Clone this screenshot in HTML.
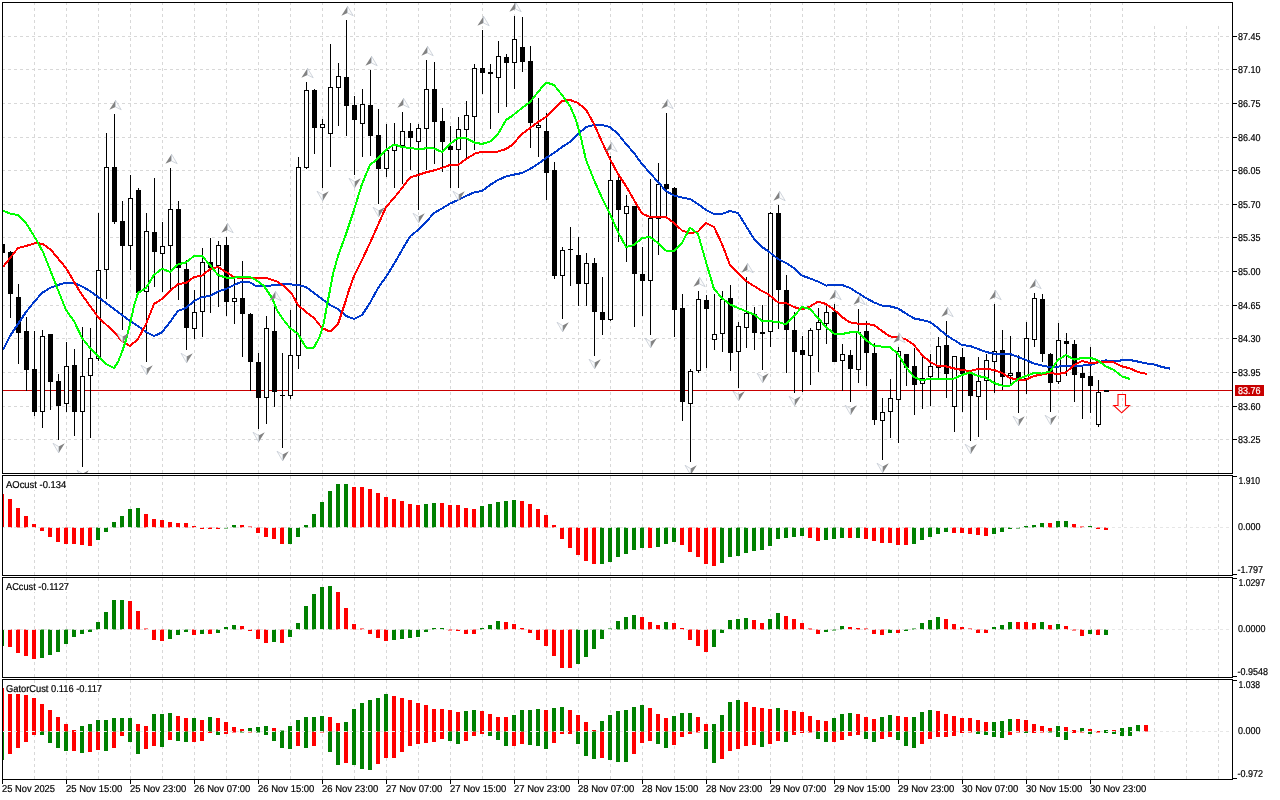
<!DOCTYPE html>
<html><head><meta charset="utf-8"><title>Chart</title>
<style>html,body{margin:0;padding:0;background:#fff;overflow:hidden}svg{display:block}text{font-family:"Liberation Sans",Arial,sans-serif;font-size:10px;text-rendering:geometricPrecision;fill:#000;stroke:#000;stroke-width:0.2px}</style></head><body>
<svg width="1280" height="800" viewBox="0 0 1280 800">
<rect width="1280" height="800" fill="#fff"/>
<defs>
<clipPath id="c0"><rect x="3" y="3" width="1229" height="470"/></clipPath>
<clipPath id="c1"><rect x="3" y="476" width="1229" height="99"/></clipPath>
<clipPath id="c2"><rect x="3" y="578" width="1229" height="99"/></clipPath>
<clipPath id="c3"><rect x="3" y="680" width="1229" height="99"/></clipPath>
</defs>
<g shape-rendering="crispEdges" stroke="#d8d8d8" stroke-width="1" stroke-dasharray="3 3" fill="none"><g clip-path="url(#c0)"><path d="M34.5 2V473"/><path d="M66.5 2V473"/><path d="M98.5 2V473"/><path d="M130.5 2V473"/><path d="M162.5 2V473"/><path d="M194.5 2V473"/><path d="M226.5 2V473"/><path d="M258.5 2V473"/><path d="M290.5 2V473"/><path d="M322.5 2V473"/><path d="M354.5 2V473"/><path d="M386.5 2V473"/><path d="M418.5 2V473"/><path d="M450.5 2V473"/><path d="M482.5 2V473"/><path d="M514.5 2V473"/><path d="M546.5 2V473"/><path d="M578.5 2V473"/><path d="M610.5 2V473"/><path d="M642.5 2V473"/><path d="M674.5 2V473"/><path d="M706.5 2V473"/><path d="M738.5 2V473"/><path d="M770.5 2V473"/><path d="M802.5 2V473"/><path d="M834.5 2V473"/><path d="M866.5 2V473"/><path d="M898.5 2V473"/><path d="M930.5 2V473"/><path d="M962.5 2V473"/><path d="M994.5 2V473"/><path d="M1026.5 2V473"/><path d="M1058.5 2V473"/><path d="M1090.5 2V473"/><path d="M1122.5 2V473"/><path d="M1154.5 26V473"/><path d="M1186.5 26V473"/><path d="M1218.5 26V473"/><path d="M2 36.5H1232"/><path d="M2 69.5H1232"/><path d="M2 103.5H1232"/><path d="M2 137.5H1232"/><path d="M2 170.5H1232"/><path d="M2 204.5H1232"/><path d="M2 237.5H1232"/><path d="M2 271.5H1232"/><path d="M2 305.5H1232"/><path d="M2 338.5H1232"/><path d="M2 372.5H1232"/><path d="M2 406.5H1232"/><path d="M2 439.5H1232"/></g><g clip-path="url(#c1)"><path d="M34.5 470V575"/><path d="M66.5 470V575"/><path d="M98.5 470V575"/><path d="M130.5 470V575"/><path d="M162.5 470V575"/><path d="M194.5 470V575"/><path d="M226.5 470V575"/><path d="M258.5 470V575"/><path d="M290.5 470V575"/><path d="M322.5 470V575"/><path d="M354.5 470V575"/><path d="M386.5 470V575"/><path d="M418.5 470V575"/><path d="M450.5 470V575"/><path d="M482.5 470V575"/><path d="M514.5 470V575"/><path d="M546.5 470V575"/><path d="M578.5 470V575"/><path d="M610.5 470V575"/><path d="M642.5 470V575"/><path d="M674.5 470V575"/><path d="M706.5 470V575"/><path d="M738.5 470V575"/><path d="M770.5 470V575"/><path d="M802.5 470V575"/><path d="M834.5 470V575"/><path d="M866.5 470V575"/><path d="M898.5 470V575"/><path d="M930.5 470V575"/><path d="M962.5 470V575"/><path d="M994.5 470V575"/><path d="M1026.5 470V575"/><path d="M1058.5 470V575"/><path d="M1090.5 470V575"/><path d="M1122.5 470V575"/><path d="M1154.5 470V575"/><path d="M1186.5 470V575"/><path d="M1218.5 470V575"/><path d="M2 527.5H1232"/></g><g clip-path="url(#c2)"><path d="M34.5 572V677"/><path d="M66.5 572V677"/><path d="M98.5 572V677"/><path d="M130.5 572V677"/><path d="M162.5 572V677"/><path d="M194.5 572V677"/><path d="M226.5 572V677"/><path d="M258.5 572V677"/><path d="M290.5 572V677"/><path d="M322.5 572V677"/><path d="M354.5 572V677"/><path d="M386.5 572V677"/><path d="M418.5 572V677"/><path d="M450.5 572V677"/><path d="M482.5 572V677"/><path d="M514.5 572V677"/><path d="M546.5 572V677"/><path d="M578.5 572V677"/><path d="M610.5 572V677"/><path d="M642.5 572V677"/><path d="M674.5 572V677"/><path d="M706.5 572V677"/><path d="M738.5 572V677"/><path d="M770.5 572V677"/><path d="M802.5 572V677"/><path d="M834.5 572V677"/><path d="M866.5 572V677"/><path d="M898.5 572V677"/><path d="M930.5 572V677"/><path d="M962.5 572V677"/><path d="M994.5 572V677"/><path d="M1026.5 572V677"/><path d="M1058.5 572V677"/><path d="M1090.5 572V677"/><path d="M1122.5 572V677"/><path d="M1154.5 572V677"/><path d="M1186.5 572V677"/><path d="M1218.5 572V677"/><path d="M2 629.5H1232"/></g><g clip-path="url(#c3)"><path d="M34.5 674V779"/><path d="M66.5 674V779"/><path d="M98.5 674V779"/><path d="M130.5 674V779"/><path d="M162.5 674V779"/><path d="M194.5 674V779"/><path d="M226.5 674V779"/><path d="M258.5 674V779"/><path d="M290.5 674V779"/><path d="M322.5 674V779"/><path d="M354.5 674V779"/><path d="M386.5 674V779"/><path d="M418.5 674V779"/><path d="M450.5 674V779"/><path d="M482.5 674V779"/><path d="M514.5 674V779"/><path d="M546.5 674V779"/><path d="M578.5 674V779"/><path d="M610.5 674V779"/><path d="M642.5 674V779"/><path d="M674.5 674V779"/><path d="M706.5 674V779"/><path d="M738.5 674V779"/><path d="M770.5 674V779"/><path d="M802.5 674V779"/><path d="M834.5 674V779"/><path d="M866.5 674V779"/><path d="M898.5 674V779"/><path d="M930.5 674V779"/><path d="M962.5 674V779"/><path d="M994.5 674V779"/><path d="M1026.5 674V779"/><path d="M1058.5 674V779"/><path d="M1090.5 674V779"/><path d="M1122.5 674V779"/><path d="M1154.5 674V779"/><path d="M1186.5 674V779"/><path d="M1218.5 674V779"/><path d="M2 731.5H1232"/></g></g>
<g clip-path="url(#c0)"><g shape-rendering="crispEdges"><rect x="3" y="390" width="1229" height="1" fill="#c80000"/><path fill="#000" d="M10 251h1v67h-1zM18 284h1v80h-1zM26 317h1v74h-1zM34 331h1v85h-1zM42 330h1v98h-1zM50 334h1v76h-1zM58 374h1v66h-1zM66 342h1v70h-1zM74 349h1v87h-1zM82 327h1v140h-1zM90 328h1v110h-1zM98 213h1v148h-1zM106 133h1v166h-1zM114 114h1v110h-1zM122 201h1v129h-1zM130 175h1v95h-1zM138 188h1v105h-1zM146 213h1v149h-1zM154 178h1v109h-1zM162 222h1v70h-1zM170 168h1v121h-1zM178 201h1v99h-1zM186 260h1v90h-1zM194 290h1v49h-1zM202 248h1v89h-1zM210 238h1v75h-1zM218 241h1v66h-1zM226 237h1v79h-1zM234 279h1v45h-1zM242 261h1v96h-1zM250 313h1v78h-1zM258 353h1v76h-1zM266 316h1v108h-1zM274 305h1v102h-1zM282 353h1v95h-1zM290 310h1v89h-1zM298 157h1v212h-1zM306 82h1v87h-1zM314 89h1v65h-1zM322 119h1v69h-1zM330 44h1v123h-1zM338 63h1v63h-1zM346 20h1v116h-1zM354 96h1v79h-1zM362 89h1v68h-1zM370 70h1v86h-1zM378 109h1v95h-1zM386 124h1v53h-1zM394 123h1v65h-1zM402 112h1v72h-1zM410 123h1v47h-1zM418 124h1v86h-1zM426 60h1v110h-1zM434 62h1v102h-1zM442 108h1v64h-1zM450 126h1v62h-1zM458 117h1v71h-1zM466 101h1v59h-1zM474 64h1v86h-1zM482 30h1v64h-1zM490 64h1v65h-1zM498 41h1v72h-1zM506 54h1v53h-1zM514 16h1v73h-1zM522 17h1v55h-1zM530 46h1v102h-1zM538 98h1v59h-1zM546 113h1v87h-1zM554 162h1v117h-1zM562 247h1v72h-1zM570 227h1v59h-1zM578 237h1v69h-1zM586 253h1v53h-1zM594 258h1v98h-1zM602 277h1v58h-1zM610 156h1v165h-1zM618 177h1v65h-1zM626 195h1v67h-1zM634 206h1v121h-1zM642 247h1v69h-1zM650 179h1v156h-1zM658 163h1v92h-1zM666 113h1v104h-1zM674 187h1v150h-1zM682 294h1v127h-1zM690 369h1v93h-1zM698 291h1v82h-1zM706 295h1v73h-1zM714 294h1v56h-1zM722 291h1v61h-1zM730 285h1v86h-1zM738 322h1v66h-1zM746 277h1v71h-1zM754 307h1v43h-1zM762 305h1v65h-1zM770 212h1v135h-1zM778 205h1v124h-1zM786 275h1v98h-1zM794 312h1v81h-1zM802 336h1v56h-1zM810 328h1v57h-1zM818 308h1v64h-1zM826 305h1v39h-1zM834 304h1v58h-1zM842 344h1v47h-1zM850 350h1v52h-1zM858 309h1v74h-1zM866 321h1v65h-1zM874 343h1v82h-1zM882 398h1v62h-1zM890 379h1v59h-1zM898 347h1v96h-1zM906 354h1v32h-1zM914 348h1v67h-1zM922 357h1v52h-1zM930 354h1v52h-1zM938 337h1v41h-1zM946 321h1v77h-1zM954 356h1v76h-1zM962 348h1v64h-1zM970 370h1v71h-1zM978 357h1v80h-1zM986 354h1v66h-1zM994 304h1v89h-1zM1002 330h1v60h-1zM1010 336h1v49h-1zM1018 355h1v58h-1zM1026 322h1v72h-1zM1034 293h1v54h-1zM1042 294h1v68h-1zM1050 353h1v59h-1zM1058 323h1v61h-1zM1066 333h1v43h-1zM1074 340h1v62h-1zM1082 367h1v52h-1zM1090 347h1v66h-1zM1098 380h1v47h-1z"/><path fill="#000" d="M0 244h5v9h-5zM8 252h5v42h-5zM16 297h5v36h-5zM24 331h5v39h-5zM32 369h5v43h-5zM40 336h5v76h-5zM48 334h5v48h-5zM56 381h5v25h-5zM64 366h5v38h-5zM72 365h5v47h-5zM80 376h5v36h-5zM88 358h5v18h-5zM96 270h5v89h-5zM104 167h5v103h-5zM112 167h5v55h-5zM120 221h5v25h-5zM128 198h5v48h-5zM136 190h5v103h-5zM144 231h5v61h-5zM152 232h5v20h-5zM160 246h5v8h-5zM168 209h5v37h-5zM176 209h5v59h-5zM184 269h5v59h-5zM192 312h5v17h-5zM200 262h5v50h-5zM208 262h5v6h-5zM216 245h5v21h-5zM224 245h5v57h-5zM232 298h5v4h-5zM240 298h5v16h-5zM248 314h5v48h-5zM256 362h5v36h-5zM264 328h5v70h-5zM272 331h5v61h-5zM280 395h5v1h-5zM288 355h5v41h-5zM296 167h5v189h-5zM304 90h5v78h-5zM312 90h5v38h-5zM320 124h5v4h-5zM328 87h5v47h-5zM336 76h5v12h-5zM344 77h5v29h-5zM352 105h5v15h-5zM360 104h5v20h-5zM368 105h5v31h-5zM376 135h5v34h-5zM384 150h5v19h-5zM392 144h5v7h-5zM400 131h5v15h-5zM408 131h5v7h-5zM416 128h5v14h-5zM424 89h5v40h-5zM432 89h5v33h-5zM440 121h5v21h-5zM448 146h5v4h-5zM456 129h5v21h-5zM464 115h5v15h-5zM472 68h5v49h-5zM480 68h5v5h-5zM488 72h5v2h-5zM496 56h5v22h-5zM504 57h5v6h-5zM512 39h5v24h-5zM520 47h5v15h-5zM528 61h5v62h-5zM536 125h5v3h-5zM544 131h5v42h-5zM552 170h5v106h-5zM560 250h5v26h-5zM568 249h5v1h-5zM576 255h5v29h-5zM584 263h5v21h-5zM592 263h5v49h-5zM600 312h5v8h-5zM608 180h5v140h-5zM616 180h5v30h-5zM624 206h5v8h-5zM632 206h5v68h-5zM640 274h5v7h-5zM648 218h5v63h-5zM656 184h5v35h-5zM664 184h5v5h-5zM672 188h5v122h-5zM680 308h5v94h-5zM688 371h5v33h-5zM696 299h5v72h-5zM704 300h5v9h-5zM712 334h5v6h-5zM720 299h5v35h-5zM728 298h5v55h-5zM736 326h5v26h-5zM744 313h5v15h-5zM752 314h5v19h-5zM760 332h5v2h-5zM768 213h5v119h-5zM776 213h5v77h-5zM784 290h5v40h-5zM792 330h5v22h-5zM800 350h5v5h-5zM808 330h5v26h-5zM816 322h5v8h-5zM824 312h5v12h-5zM832 312h5v50h-5zM840 354h5v7h-5zM848 355h5v14h-5zM856 332h5v38h-5zM864 331h5v22h-5zM872 353h5v67h-5zM880 412h5v9h-5zM888 398h5v14h-5zM896 351h5v49h-5zM904 354h5v14h-5zM912 366h5v19h-5zM920 378h5v6h-5zM928 366h5v11h-5zM936 346h5v22h-5zM944 345h5v29h-5zM952 356h5v51h-5zM960 357h5v17h-5zM968 373h5v23h-5zM976 381h5v16h-5zM984 360h5v21h-5zM992 351h5v11h-5zM1000 350h5v27h-5zM1008 373h5v3h-5zM1016 372h5v6h-5zM1024 338h5v41h-5zM1032 298h5v42h-5zM1040 299h5v55h-5zM1048 354h5v29h-5zM1056 340h5v42h-5zM1064 341h5v3h-5zM1072 344h5v31h-5zM1080 373h5v5h-5zM1088 376h5v10h-5zM1096 392h5v33h-5zM1104 390h5v2h-5z"/><path fill="#fff" d="M41 337h3v74h-3zM65 367h3v36h-3zM81 377h3v34h-3zM89 359h3v16h-3zM97 271h3v87h-3zM105 168h3v101h-3zM129 199h3v46h-3zM145 232h3v59h-3zM161 247h3v6h-3zM169 210h3v35h-3zM193 313h3v15h-3zM201 263h3v48h-3zM217 246h3v19h-3zM233 299h3v2h-3zM265 329h3v68h-3zM289 356h3v39h-3zM297 168h3v187h-3zM305 91h3v76h-3zM321 125h3v2h-3zM329 88h3v45h-3zM337 77h3v10h-3zM361 105h3v18h-3zM385 151h3v17h-3zM393 145h3v5h-3zM401 132h3v13h-3zM417 129h3v12h-3zM425 90h3v38h-3zM457 130h3v19h-3zM465 116h3v13h-3zM473 69h3v47h-3zM497 57h3v20h-3zM513 40h3v22h-3zM537 126h3v1h-3zM561 251h3v24h-3zM585 264h3v19h-3zM609 181h3v138h-3zM625 207h3v6h-3zM649 219h3v61h-3zM657 185h3v33h-3zM689 372h3v31h-3zM697 300h3v70h-3zM713 335h3v4h-3zM721 300h3v33h-3zM737 327h3v24h-3zM745 314h3v13h-3zM769 214h3v117h-3zM809 331h3v24h-3zM817 323h3v6h-3zM825 313h3v10h-3zM841 355h3v5h-3zM857 333h3v36h-3zM881 413h3v7h-3zM889 399h3v12h-3zM897 352h3v47h-3zM921 379h3v4h-3zM929 367h3v9h-3zM937 347h3v20h-3zM953 357h3v49h-3zM977 382h3v14h-3zM985 361h3v19h-3zM993 352h3v9h-3zM1009 374h3v1h-3zM1025 339h3v39h-3zM1033 299h3v40h-3zM1057 341h3v40h-3zM1097 393h3v31h-3z"/><polyline points="3,350 10,336 18,324 26,312 34,302 42,293 50,288 58,285 66,282.6 74,283 82,286.4 90,291 98,297 106,303 114,309 122,315 130,321 138,326 146,332 154,336 162,332.4 170,322 178,311 186,308 194,301 202,297 210,296 218,291.6 226,289 234,285 242,281.6 250,282.4 256,286 266,286 276,285 286,284 298,285 306,287 314,293 322,299 330,305 338,309 346,316 354,319 362,315 368,306 371,301 378,288 386,277 394,264 402,250 410,236.4 418,230 426,222 434,213 442,208.4 450,203.6 458,200 466,196 474,192.4 482,191 490,185 498,180 506,176.4 512,175 522,173 530,169 538,164 546,158 554,153 562,147 570,142 578,134 586,127 594,125 602,125 610,127 618,134 626,144 634,153 642,164 650,173 658,182 666,191 674,195.6 682,197.6 690,199 698,204 706,210 714,214 722,214 730,211 738,213 746,226 754,239 762,247 768,251 778,259 786,263 794,268 802,275.6 810,278.4 818,281.6 826,285.6 834,285 842,285 850,288 858,293 866,298 874,302.4 882,305.6 890,306.4 898,308.4 906,313.6 914,318.4 922,320 930,322 938,328 946,335 954,340 962,345 970,346 978,349 986,352 994,353.6 1002,354 1010,354 1018,357 1026,360 1034,363.6 1042,365.6 1050,367 1058,366.6 1066,366 1074,365.6 1082,365.6 1090,365 1098,362.4 1106,360.4 1114,361 1122,360.4 1130,360 1138,361.6 1146,363.4 1154,364.4 1162,367 1170,368.6" fill="none" stroke="#0039cc" stroke-width="2" stroke-linejoin="round"/><polyline points="3,267 10,258 18,248 26,246 36,243 43,244 51,250 66,268 80,292 98,317 114,332 122,341 130,346 138,339 146,324 154,304 162,299 170,291 178,284 186,283 194,277 202,275.6 210,269 218,267 226,272 234,277 242,278.4 250,278 256,278 266,278 276,281 284,286 292,294 298,305 306,312 314,318 322,328 330,331.6 338,324 342,312 346,300 348,293 354,276 362,260 370,243 378,225 386,207 394,198 402,188 410,177.6 418,175 426,172.4 434,170.4 442,168 450,165 458,165 466,159 476,153 482,152 490,152 498,151.6 506,149 512,145 522,134 530,128 538,122 546,117 554,109 562,101 570,100 578,103 586,109.6 594,124 602,142 610,159 618,174 626,186 634,200 642,213.6 650,217 658,217 666,217 674,223 682,230.4 690,233.6 698,231.6 706,223 714,227 722,244 730,265 738,273 746,281 754,286 762,291 768,294 778,302.4 786,303 794,307 802,309.6 810,306.4 818,301.6 826,304 834,309.6 842,317 850,322.4 858,323.6 866,324 874,325 882,331 890,336.4 898,337 906,339.4 914,345 922,355 930,362 938,366 946,366.4 954,368.4 962,370 970,371 978,369 986,368.6 994,370 1002,373 1010,378 1018,379.6 1026,379.6 1034,376 1042,374.4 1050,373 1058,374 1066,372.4 1074,365 1082,361 1090,363 1098,362.4 1106,361.6 1114,362.4 1122,366.4 1130,368.4 1138,372 1147,374" fill="none" stroke="#ff0000" stroke-width="2" stroke-linejoin="round"/><polyline points="3,210.6 10,213.5 18,215 26,223 34,236 37,241 43,252 51,272 58,290 66,310 74,321 82,338 90,348 98,356 106,364 114,368 118,362 122,352 126,340 130,324 134,306 138,293 146,288 154,275 162,268.6 170,272 178,264.4 186,262.4 194,256 202,256 210,265 218,275 226,277.6 234,277.6 242,277 250,277 256,280 264,286 272,298 277,310 282,318 290,328 298,334 306,347.6 314,347.6 320,336 324,322 327,305 330,290 333,274 338,256 346,234 354,210 362,184 370,165 376,160 386,150 394,144.4 402,147 410,148 418,149 426,148.4 434,148.4 442,152 450,144 458,138 466,138 474,142.4 482,144 490,141.6 498,134 506,120 512,116 522,108 530,102 538,92 546,82.4 554,85 562,95 570,106 576,120 581,138 586,160 594,180 602,198 610,214 618,232 626,247 634,245 642,238 650,237 658,243 666,250.6 674,251 682,243 690,227.6 698,234 706,262 714,289 722,298 730,304.4 738,308 748,312 755,315 762,321 768,321 778,322 786,324.4 794,316 802,307 810,309 818,318 826,327 834,333.6 842,334 850,332.4 858,332 866,340 874,346 882,346.6 890,347 898,354 906,367 914,377 922,380.6 930,378.6 938,378.6 946,379 954,378.6 962,375 970,372.4 978,376 986,377.6 994,383 1002,385.6 1010,385.6 1018,379 1026,376 1034,373 1042,373.6 1050,371.6 1058,360 1066,355 1074,359.6 1082,358 1090,357.6 1098,360.4 1106,366.4 1114,370 1122,376.4 1130,379" fill="none" stroke="#00ff00" stroke-width="2" stroke-linejoin="round"/></g><path d="M115.5 100.2L109.4 109.7L115.5 107Z" fill="#828282"/><path d="M115.5 100.2L121.2 109.7L115.5 107Z" fill="#fbfbfb" stroke="#b4bcc8" stroke-width="0.6"/><path d="M171.5 154.2L165.4 163.7L171.5 161Z" fill="#828282"/><path d="M171.5 154.2L177.2 163.7L171.5 161Z" fill="#fbfbfb" stroke="#b4bcc8" stroke-width="0.6"/><path d="M227.5 223.2L221.4 232.7L227.5 230Z" fill="#828282"/><path d="M227.5 223.2L233.2 232.7L227.5 230Z" fill="#fbfbfb" stroke="#b4bcc8" stroke-width="0.6"/><path d="M275.5 291.2L269.4 300.7L275.5 298Z" fill="#828282"/><path d="M275.5 291.2L281.2 300.7L275.5 298Z" fill="#fbfbfb" stroke="#b4bcc8" stroke-width="0.6"/><path d="M307.5 68.2L301.4 77.7L307.5 75Z" fill="#828282"/><path d="M307.5 68.2L313.2 77.7L307.5 75Z" fill="#fbfbfb" stroke="#b4bcc8" stroke-width="0.6"/><path d="M347.5 6.199999999999999L341.4 15.7L347.5 13Z" fill="#828282"/><path d="M347.5 6.199999999999999L353.2 15.7L347.5 13Z" fill="#fbfbfb" stroke="#b4bcc8" stroke-width="0.6"/><path d="M371.5 56.2L365.4 65.7L371.5 63Z" fill="#828282"/><path d="M371.5 56.2L377.2 65.7L371.5 63Z" fill="#fbfbfb" stroke="#b4bcc8" stroke-width="0.6"/><path d="M403.5 98.2L397.4 107.7L403.5 105Z" fill="#828282"/><path d="M403.5 98.2L409.2 107.7L403.5 105Z" fill="#fbfbfb" stroke="#b4bcc8" stroke-width="0.6"/><path d="M427.5 46.2L421.4 55.7L427.5 53Z" fill="#828282"/><path d="M427.5 46.2L433.2 55.7L427.5 53Z" fill="#fbfbfb" stroke="#b4bcc8" stroke-width="0.6"/><path d="M483.5 16.2L477.4 25.7L483.5 23Z" fill="#828282"/><path d="M483.5 16.2L489.2 25.7L483.5 23Z" fill="#fbfbfb" stroke="#b4bcc8" stroke-width="0.6"/><path d="M515.5 2.1999999999999993L509.4 11.7L515.5 9Z" fill="#828282"/><path d="M515.5 2.1999999999999993L521.2 11.7L515.5 9Z" fill="#fbfbfb" stroke="#b4bcc8" stroke-width="0.6"/><path d="M611.5 142.2L605.4 151.7L611.5 149Z" fill="#828282"/><path d="M611.5 142.2L617.2 151.7L611.5 149Z" fill="#fbfbfb" stroke="#b4bcc8" stroke-width="0.6"/><path d="M667.5 99.2L661.4 108.7L667.5 106Z" fill="#828282"/><path d="M667.5 99.2L673.2 108.7L667.5 106Z" fill="#fbfbfb" stroke="#b4bcc8" stroke-width="0.6"/><path d="M699.5 277.2L693.4 286.7L699.5 284Z" fill="#828282"/><path d="M699.5 277.2L705.2 286.7L699.5 284Z" fill="#fbfbfb" stroke="#b4bcc8" stroke-width="0.6"/><path d="M747.5 263.2L741.4 272.7L747.5 270Z" fill="#828282"/><path d="M747.5 263.2L753.2 272.7L747.5 270Z" fill="#fbfbfb" stroke="#b4bcc8" stroke-width="0.6"/><path d="M779.5 191.2L773.4 200.7L779.5 198Z" fill="#828282"/><path d="M779.5 191.2L785.2 200.7L779.5 198Z" fill="#fbfbfb" stroke="#b4bcc8" stroke-width="0.6"/><path d="M835.5 290.2L829.4 299.7L835.5 297Z" fill="#828282"/><path d="M835.5 290.2L841.2 299.7L835.5 297Z" fill="#fbfbfb" stroke="#b4bcc8" stroke-width="0.6"/><path d="M859.5 295.2L853.4 304.7L859.5 302Z" fill="#828282"/><path d="M859.5 295.2L865.2 304.7L859.5 302Z" fill="#fbfbfb" stroke="#b4bcc8" stroke-width="0.6"/><path d="M899.5 333.2L893.4 342.7L899.5 340Z" fill="#828282"/><path d="M899.5 333.2L905.2 342.7L899.5 340Z" fill="#fbfbfb" stroke="#b4bcc8" stroke-width="0.6"/><path d="M947.5 307.2L941.4 316.7L947.5 314Z" fill="#828282"/><path d="M947.5 307.2L953.2 316.7L947.5 314Z" fill="#fbfbfb" stroke="#b4bcc8" stroke-width="0.6"/><path d="M995.5 290.2L989.4 299.7L995.5 297Z" fill="#828282"/><path d="M995.5 290.2L1001.2 299.7L995.5 297Z" fill="#fbfbfb" stroke="#b4bcc8" stroke-width="0.6"/><path d="M1035.5 279.2L1029.4 288.7L1035.5 286Z" fill="#828282"/><path d="M1035.5 279.2L1041.2 288.7L1035.5 286Z" fill="#fbfbfb" stroke="#b4bcc8" stroke-width="0.6"/><path d="M58.7 452.9L64.8 443.3L58.7 446.6Z" fill="#828282"/><path d="M58.7 452.9L53 443.3L58.7 446.6Z" fill="#fbfbfb" stroke="#b4bcc8" stroke-width="0.6"/><path d="M82.7 479.9L88.8 470.3L82.7 473.6Z" fill="#828282"/><path d="M82.7 479.9L77 470.3L82.7 473.6Z" fill="#fbfbfb" stroke="#b4bcc8" stroke-width="0.6"/><path d="M122.7 342.9L128.8 333.3L122.7 336.6Z" fill="#828282"/><path d="M122.7 342.9L117 333.3L122.7 336.6Z" fill="#fbfbfb" stroke="#b4bcc8" stroke-width="0.6"/><path d="M146.7 374.9L152.8 365.3L146.7 368.6Z" fill="#828282"/><path d="M146.7 374.9L141 365.3L146.7 368.6Z" fill="#fbfbfb" stroke="#b4bcc8" stroke-width="0.6"/><path d="M186.7 362.9L192.8 353.3L186.7 356.6Z" fill="#828282"/><path d="M186.7 362.9L181 353.3L186.7 356.6Z" fill="#fbfbfb" stroke="#b4bcc8" stroke-width="0.6"/><path d="M258.7 441.9L264.8 432.3L258.7 435.6Z" fill="#828282"/><path d="M258.7 441.9L253 432.3L258.7 435.6Z" fill="#fbfbfb" stroke="#b4bcc8" stroke-width="0.6"/><path d="M282.7 460.9L288.8 451.3L282.7 454.6Z" fill="#828282"/><path d="M282.7 460.9L277 451.3L282.7 454.6Z" fill="#fbfbfb" stroke="#b4bcc8" stroke-width="0.6"/><path d="M322.7 200.9L328.8 191.3L322.7 194.6Z" fill="#828282"/><path d="M322.7 200.9L317 191.3L322.7 194.6Z" fill="#fbfbfb" stroke="#b4bcc8" stroke-width="0.6"/><path d="M354.7 187.9L360.8 178.3L354.7 181.6Z" fill="#828282"/><path d="M354.7 187.9L349 178.3L354.7 181.6Z" fill="#fbfbfb" stroke="#b4bcc8" stroke-width="0.6"/><path d="M378.7 216.9L384.8 207.3L378.7 210.6Z" fill="#828282"/><path d="M378.7 216.9L373 207.3L378.7 210.6Z" fill="#fbfbfb" stroke="#b4bcc8" stroke-width="0.6"/><path d="M418.7 222.9L424.8 213.3L418.7 216.6Z" fill="#828282"/><path d="M418.7 222.9L413 213.3L418.7 216.6Z" fill="#fbfbfb" stroke="#b4bcc8" stroke-width="0.6"/><path d="M458.7 200.9L464.8 191.3L458.7 194.6Z" fill="#828282"/><path d="M458.7 200.9L453 191.3L458.7 194.6Z" fill="#fbfbfb" stroke="#b4bcc8" stroke-width="0.6"/><path d="M562.7 331.9L568.8 322.3L562.7 325.6Z" fill="#828282"/><path d="M562.7 331.9L557 322.3L562.7 325.6Z" fill="#fbfbfb" stroke="#b4bcc8" stroke-width="0.6"/><path d="M594.7 368.9L600.8 359.3L594.7 362.6Z" fill="#828282"/><path d="M594.7 368.9L589 359.3L594.7 362.6Z" fill="#fbfbfb" stroke="#b4bcc8" stroke-width="0.6"/><path d="M650.7 347.9L656.8 338.3L650.7 341.6Z" fill="#828282"/><path d="M650.7 347.9L645 338.3L650.7 341.6Z" fill="#fbfbfb" stroke="#b4bcc8" stroke-width="0.6"/><path d="M690.7 474.9L696.8 465.3L690.7 468.6Z" fill="#828282"/><path d="M690.7 474.9L685 465.3L690.7 468.6Z" fill="#fbfbfb" stroke="#b4bcc8" stroke-width="0.6"/><path d="M738.7 400.9L744.8 391.3L738.7 394.6Z" fill="#828282"/><path d="M738.7 400.9L733 391.3L738.7 394.6Z" fill="#fbfbfb" stroke="#b4bcc8" stroke-width="0.6"/><path d="M762.7 382.9L768.8 373.3L762.7 376.6Z" fill="#828282"/><path d="M762.7 382.9L757 373.3L762.7 376.6Z" fill="#fbfbfb" stroke="#b4bcc8" stroke-width="0.6"/><path d="M794.7 405.9L800.8 396.3L794.7 399.6Z" fill="#828282"/><path d="M794.7 405.9L789 396.3L794.7 399.6Z" fill="#fbfbfb" stroke="#b4bcc8" stroke-width="0.6"/><path d="M850.7 414.9L856.8 405.3L850.7 408.6Z" fill="#828282"/><path d="M850.7 414.9L845 405.3L850.7 408.6Z" fill="#fbfbfb" stroke="#b4bcc8" stroke-width="0.6"/><path d="M882.7 472.9L888.8 463.3L882.7 466.6Z" fill="#828282"/><path d="M882.7 472.9L877 463.3L882.7 466.6Z" fill="#fbfbfb" stroke="#b4bcc8" stroke-width="0.6"/><path d="M970.7 453.9L976.8 444.3L970.7 447.6Z" fill="#828282"/><path d="M970.7 453.9L965 444.3L970.7 447.6Z" fill="#fbfbfb" stroke="#b4bcc8" stroke-width="0.6"/><path d="M1018.7 425.9L1024.8 416.3L1018.7 419.6Z" fill="#828282"/><path d="M1018.7 425.9L1013 416.3L1018.7 419.6Z" fill="#fbfbfb" stroke="#b4bcc8" stroke-width="0.6"/><path d="M1050.7 424.9L1056.8 415.3L1050.7 418.6Z" fill="#828282"/><path d="M1050.7 424.9L1045 415.3L1050.7 418.6Z" fill="#fbfbfb" stroke="#b4bcc8" stroke-width="0.6"/><path d="M1118 394.5H1125.5V405.5H1129.5L1121.7 412.8L1113.8 405.5H1118Z" fill="none" stroke="#ff0000" stroke-width="1.1" stroke-linejoin="miter"/></g>
<g fill="#fff" shape-rendering="crispEdges"><rect x="5" y="480" width="62" height="10"/><rect x="5" y="582" width="66" height="10"/><rect x="5" y="684" width="98" height="10"/></g>
<g clip-path="url(#c1)"><path fill="#ff0000" d="M0 494h4v33.5h-4zM8 499h4v28.5h-4zM16 508h4v19.5h-4zM24 516h4v11.5h-4zM32 524h4v3.5h-4zM40 527.5h4v3.5h-4zM48 527.5h4v9.5h-4zM56 527.5h4v14.5h-4zM64 527.5h4v16.5h-4zM72 527.5h4v16.5h-4zM80 527.5h4v17.5h-4zM88 527.5h4v18.5h-4zM144 514h4v13.5h-4zM152 519h4v8.5h-4zM160 520h4v7.5h-4zM168 522h4v5.5h-4zM176 523h4v4.5h-4zM184 523h4v4.5h-4zM192 526h4v1.5h-4zM200 527.5h4v1.5h-4zM208 527.5h4v1.5h-4zM216 527.5h4v1.5h-4zM240 525h4v2.5h-4zM248 526.5h4v1.0h-4zM256 527.5h4v5.5h-4zM264 527.5h4v9.5h-4zM272 527.5h4v11.5h-4zM280 527.5h4v16.5h-4zM352 487h4v40.5h-4zM360 487h4v40.5h-4zM368 489h4v38.5h-4zM376 493h4v34.5h-4zM384 497h4v30.5h-4zM392 499h4v28.5h-4zM400 501h4v26.5h-4zM408 504h4v23.5h-4zM416 505h4v22.5h-4zM440 503h4v24.5h-4zM448 505h4v22.5h-4zM456 505h4v22.5h-4zM464 508h4v19.5h-4zM472 509h4v18.5h-4zM520 501h4v26.5h-4zM528 504h4v23.5h-4zM536 509h4v18.5h-4zM544 515h4v12.5h-4zM552 525h4v2.5h-4zM560 527.5h4v11.5h-4zM568 527.5h4v20.5h-4zM576 527.5h4v27.5h-4zM584 527.5h4v33.5h-4zM592 527.5h4v36.5h-4zM648 527.5h4v20.5h-4zM680 527.5h4v17.5h-4zM688 527.5h4v24.5h-4zM696 527.5h4v29.5h-4zM704 527.5h4v36.5h-4zM712 527.5h4v38.5h-4zM808 527.5h4v10.5h-4zM816 527.5h4v13.5h-4zM848 527.5h4v10.5h-4zM864 527.5h4v11.5h-4zM872 527.5h4v13.5h-4zM880 527.5h4v15.5h-4zM888 527.5h4v15.5h-4zM896 527.5h4v17.5h-4zM904 527.5h4v17.5h-4zM952 527.5h4v5.5h-4zM960 527.5h4v5.5h-4zM968 527.5h4v6.5h-4zM976 527.5h4v7.5h-4zM984 527.5h4v8.5h-4zM1048 523h4v4.5h-4zM1072 524h4v3.5h-4zM1080 526.4h4v1.1000000000000227h-4zM1096 527.5h4v1.5h-4zM1104 527.5h4v2.5h-4z"/><path fill="#008000" d="M96 527.5h4v12.5h-4zM104 527.5h4v4.5h-4zM112 522h4v5.5h-4zM120 516h4v11.5h-4zM128 509h4v18.5h-4zM136 508h4v19.5h-4zM224 527.5h4v1.1000000000000227h-4zM232 525h4v2.5h-4zM288 527.5h4v16.5h-4zM296 527.5h4v9.5h-4zM304 525h4v2.5h-4zM312 514h4v13.5h-4zM320 502h4v25.5h-4zM328 491h4v36.5h-4zM336 484h4v43.5h-4zM344 484h4v43.5h-4zM424 504h4v23.5h-4zM432 503h4v24.5h-4zM480 506h4v21.5h-4zM488 504h4v23.5h-4zM496 502h4v25.5h-4zM504 501h4v26.5h-4zM512 500h4v27.5h-4zM600 527.5h4v36.5h-4zM608 527.5h4v34.5h-4zM616 527.5h4v29.5h-4zM624 527.5h4v26.5h-4zM632 527.5h4v22.5h-4zM640 527.5h4v20.5h-4zM656 527.5h4v19.5h-4zM664 527.5h4v16.5h-4zM672 527.5h4v14.5h-4zM720 527.5h4v35.5h-4zM728 527.5h4v29.5h-4zM736 527.5h4v28.5h-4zM744 527.5h4v25.5h-4zM752 527.5h4v23.5h-4zM760 527.5h4v22.5h-4zM768 527.5h4v18.5h-4zM776 527.5h4v11.5h-4zM784 527.5h4v10.5h-4zM792 527.5h4v9.5h-4zM800 527.5h4v8.5h-4zM824 527.5h4v12.5h-4zM832 527.5h4v11.5h-4zM840 527.5h4v10.5h-4zM856 527.5h4v10.5h-4zM912 527.5h4v16.5h-4zM920 527.5h4v12.5h-4zM928 527.5h4v9.5h-4zM936 527.5h4v6.5h-4zM944 527.5h4v4.5h-4zM992 527.5h4v6.5h-4zM1000 527.5h4v4.5h-4zM1008 527.5h4v1.5h-4zM1016 527.5h4v1.1000000000000227h-4zM1024 526h4v1.5h-4zM1032 525h4v2.5h-4zM1040 523h4v4.5h-4zM1056 521h4v6.5h-4zM1064 521h4v6.5h-4zM1088 526h4v1.5h-4z"/></g>
<g clip-path="url(#c2)"><path fill="#ff0000" d="M8 629.5h4v17.5h-4zM16 629.5h4v23.5h-4zM24 629.5h4v26.5h-4zM32 629.5h4v29.5h-4zM128 601h4v28.5h-4zM136 611h4v18.5h-4zM144 628.4h4v1.1000000000000227h-4zM152 629.5h4v10.5h-4zM160 629.5h4v11.5h-4zM192 629.5h4v5.5h-4zM208 629.5h4v4.5h-4zM240 626h4v3.5h-4zM248 629.5h4v1.5h-4zM256 629.5h4v9.5h-4zM264 629.5h4v13.5h-4zM280 629.5h4v13.5h-4zM336 592h4v37.5h-4zM344 608h4v21.5h-4zM352 624h4v5.5h-4zM360 628.4h4v1.1000000000000227h-4zM368 629.5h4v4.5h-4zM376 629.5h4v8.5h-4zM384 629.5h4v11.5h-4zM448 629.5h4v1.1000000000000227h-4zM456 629.5h4v1.5h-4zM464 629.5h4v4.5h-4zM472 629.5h4v4.5h-4zM504 622h4v7.5h-4zM512 624h4v5.5h-4zM520 628h4v1.5h-4zM528 629.5h4v3.5h-4zM536 629.5h4v10.5h-4zM544 629.5h4v16.5h-4zM552 629.5h4v26.5h-4zM560 629.5h4v38.5h-4zM568 629.5h4v38.5h-4zM640 617h4v12.5h-4zM648 622h4v7.5h-4zM656 625h4v4.5h-4zM672 623h4v6.5h-4zM680 628h4v1.5h-4zM688 629.5h4v10.5h-4zM696 629.5h4v16.5h-4zM704 629.5h4v22.5h-4zM752 620h4v9.5h-4zM760 623h4v6.5h-4zM784 616h4v13.5h-4zM792 619h4v10.5h-4zM800 623h4v6.5h-4zM808 628.4h4v1.1000000000000227h-4zM816 629.5h4v4.5h-4zM848 627h4v2.5h-4zM856 628h4v1.5h-4zM864 628.4h4v1.1000000000000227h-4zM872 629.5h4v4.5h-4zM880 629.5h4v5.5h-4zM896 629.5h4v3.5h-4zM944 619h4v10.5h-4zM952 624h4v5.5h-4zM960 627h4v2.5h-4zM968 628.4h4v1.1000000000000227h-4zM976 629.5h4v3.5h-4zM984 629.5h4v3.5h-4zM1016 622h4v7.5h-4zM1024 622h4v7.5h-4zM1032 623h4v6.5h-4zM1048 625h4v4.5h-4zM1064 626h4v3.5h-4zM1072 629.5h4v1.1000000000000227h-4zM1080 629.5h4v6.5h-4zM1096 629.5h4v5.5h-4z"/><path fill="#008000" d="M0 629.5h4v16.5h-4zM40 629.5h4v28.5h-4zM48 629.5h4v25.5h-4zM56 629.5h4v22.5h-4zM64 629.5h4v14.5h-4zM72 629.5h4v7.5h-4zM80 629.5h4v4.5h-4zM88 629.5h4v2.5h-4zM96 622h4v7.5h-4zM104 612h4v17.5h-4zM112 600h4v29.5h-4zM120 600h4v29.5h-4zM168 629.5h4v9.5h-4zM176 629.5h4v5.5h-4zM184 629.5h4v2.5h-4zM200 629.5h4v4.5h-4zM216 629.5h4v3.5h-4zM224 627h4v2.5h-4zM232 625h4v4.5h-4zM272 629.5h4v12.5h-4zM288 629.5h4v7.5h-4zM296 623h4v6.5h-4zM304 606h4v23.5h-4zM312 594h4v35.5h-4zM320 587h4v42.5h-4zM328 586h4v43.5h-4zM392 629.5h4v10.5h-4zM400 629.5h4v9.5h-4zM408 629.5h4v8.5h-4zM416 629.5h4v7.5h-4zM424 629.5h4v2.5h-4zM432 628h4v1.5h-4zM440 628h4v1.5h-4zM480 628h4v1.5h-4zM488 625h4v4.5h-4zM496 621h4v8.5h-4zM576 629.5h4v34.5h-4zM584 629.5h4v27.5h-4zM592 629.5h4v19.5h-4zM600 629.5h4v9.5h-4zM608 628.4h4v1.1000000000000227h-4zM616 621h4v8.5h-4zM624 617h4v12.5h-4zM632 615h4v14.5h-4zM664 622h4v7.5h-4zM712 629.5h4v17.5h-4zM720 629.5h4v3.5h-4zM728 620h4v9.5h-4zM736 619h4v10.5h-4zM744 618h4v11.5h-4zM768 619h4v10.5h-4zM776 613h4v16.5h-4zM824 629.5h4v2.5h-4zM832 629.5h4v1.1000000000000227h-4zM840 626h4v3.5h-4zM888 629.5h4v3.5h-4zM904 629.5h4v1.5h-4zM912 628.4h4v1.1000000000000227h-4zM920 623h4v6.5h-4zM928 620h4v9.5h-4zM936 617h4v12.5h-4zM992 627h4v2.5h-4zM1000 625h4v4.5h-4zM1008 622h4v7.5h-4zM1040 622h4v7.5h-4zM1056 624h4v5.5h-4zM1088 629.5h4v4.5h-4zM1104 629.5h4v5.5h-4z"/></g>
<g clip-path="url(#c3)"><path fill="#ff0000" d="M0 688h4v43.5h-4zM8 694h4v37.5h-4zM8 731.5h4v22.5h-4zM16 694h4v37.5h-4zM16 731.5h4v16.5h-4zM24 695h4v36.5h-4zM24 731.5h4v10.5h-4zM32 698h4v33.5h-4zM32 731.5h4v3.5h-4zM40 704h4v27.5h-4zM48 710h4v21.5h-4zM56 717h4v14.5h-4zM64 724h4v7.5h-4zM72 730h4v1.5h-4zM72 731.5h4v19.5h-4zM88 731.5h4v20.5h-4zM96 731.5h4v18.5h-4zM112 731.5h4v16.5h-4zM120 731.5h4v4.5h-4zM136 724h4v7.5h-4zM144 726h4v5.5h-4zM144 731.5h4v17.5h-4zM152 731.5h4v14.5h-4zM168 731.5h4v8.5h-4zM176 716h4v15.5h-4zM184 718h4v13.5h-4zM192 731.5h4v10.5h-4zM200 720h4v11.5h-4zM200 731.5h4v9.5h-4zM208 731.5h4v1.5h-4zM216 718h4v13.5h-4zM224 722h4v9.5h-4zM224 731.5h4v2.5h-4zM232 727h4v4.5h-4zM232 731.5h4v1.1000000000000227h-4zM240 729h4v2.5h-4zM248 731.5h4v1.1000000000000227h-4zM272 728h4v3.5h-4zM296 731.5h4v14.5h-4zM312 731.5h4v14.5h-4zM320 731.5h4v1.1000000000000227h-4zM328 717h4v14.5h-4zM336 723h4v8.5h-4zM344 731.5h4v31.5h-4zM376 731.5h4v32.5h-4zM384 731.5h4v26.5h-4zM392 696h4v35.5h-4zM392 731.5h4v26.5h-4zM400 698h4v33.5h-4zM400 731.5h4v20.5h-4zM408 700h4v31.5h-4zM408 731.5h4v14.5h-4zM416 703h4v28.5h-4zM416 731.5h4v12.5h-4zM424 705h4v26.5h-4zM424 731.5h4v11.5h-4zM432 709h4v22.5h-4zM432 731.5h4v10.5h-4zM440 709h4v22.5h-4zM440 731.5h4v7.5h-4zM448 710h4v21.5h-4zM456 712h4v19.5h-4zM464 731.5h4v9.5h-4zM472 731.5h4v4.5h-4zM480 711h4v20.5h-4zM480 731.5h4v2.5h-4zM488 714h4v17.5h-4zM496 717h4v14.5h-4zM504 717h4v14.5h-4zM512 731.5h4v14.5h-4zM520 731.5h4v12.5h-4zM544 710h4v21.5h-4zM552 731.5h4v11.5h-4zM560 731.5h4v2.5h-4zM568 710h4v21.5h-4zM568 731.5h4v2.5h-4zM576 715h4v16.5h-4zM584 722h4v9.5h-4zM592 730h4v1.5h-4zM600 731.5h4v26.5h-4zM632 731.5h4v22.5h-4zM640 731.5h4v11.5h-4zM648 708h4v23.5h-4zM648 731.5h4v9.5h-4zM656 714h4v17.5h-4zM664 718h4v13.5h-4zM672 731.5h4v13.5h-4zM680 731.5h4v5.5h-4zM688 731.5h4v2.5h-4zM696 717h4v14.5h-4zM696 731.5h4v1.1000000000000227h-4zM704 724h4v7.5h-4zM720 731.5h4v27.5h-4zM728 731.5h4v19.5h-4zM736 731.5h4v17.5h-4zM744 702h4v29.5h-4zM744 731.5h4v14.5h-4zM752 707h4v24.5h-4zM752 731.5h4v13.5h-4zM760 708h4v23.5h-4zM768 709h4v22.5h-4zM768 731.5h4v12.5h-4zM776 731.5h4v9.5h-4zM784 710h4v21.5h-4zM792 711h4v20.5h-4zM792 731.5h4v3.5h-4zM800 712h4v19.5h-4zM800 731.5h4v1.5h-4zM808 716h4v15.5h-4zM808 731.5h4v1.1000000000000227h-4zM816 720h4v11.5h-4zM824 721h4v10.5h-4zM832 731.5h4v10.5h-4zM840 731.5h4v8.5h-4zM848 731.5h4v4.5h-4zM856 714h4v17.5h-4zM856 731.5h4v3.5h-4zM864 717h4v14.5h-4zM872 719h4v12.5h-4zM880 731.5h4v7.5h-4zM888 731.5h4v5.5h-4zM896 716h4v15.5h-4zM904 717h4v14.5h-4zM920 731.5h4v12.5h-4zM928 731.5h4v7.5h-4zM936 711h4v20.5h-4zM936 731.5h4v5.5h-4zM944 714h4v17.5h-4zM944 731.5h4v5.5h-4zM952 716h4v15.5h-4zM952 731.5h4v4.5h-4zM960 718h4v13.5h-4zM960 731.5h4v1.5h-4zM968 718h4v13.5h-4zM968 731.5h4v1.1000000000000227h-4zM976 720h4v11.5h-4zM984 722h4v9.5h-4zM1008 731.5h4v3.5h-4zM1016 719h4v12.5h-4zM1016 731.5h4v1.1000000000000227h-4zM1024 720h4v11.5h-4zM1032 724h4v7.5h-4zM1032 731.5h4v1.5h-4zM1040 726h4v5.5h-4zM1040 731.5h4v0.8999999999999773h-4zM1048 728h4v3.5h-4zM1064 727h4v4.5h-4zM1072 730h4v1.5h-4zM1072 731.5h4v1.5h-4zM1080 731.5h4v1.1000000000000227h-4zM1088 729h4v2.5h-4zM1096 731h4v0.5h-4zM1096 731.5h4v0.8999999999999773h-4zM1112 730h4v1.5h-4zM1144 725h4v6.5h-4z"/><path fill="#008000" d="M0 731.5h4v28.5h-4zM40 731.5h4v3.5h-4zM48 731.5h4v11.5h-4zM56 731.5h4v16.5h-4zM64 731.5h4v19.5h-4zM80 726h4v5.5h-4zM80 731.5h4v21.5h-4zM88 724h4v7.5h-4zM96 720h4v11.5h-4zM104 720h4v11.5h-4zM104 731.5h4v19.5h-4zM112 718h4v13.5h-4zM120 718h4v13.5h-4zM128 718h4v13.5h-4zM128 731.5h4v10.5h-4zM136 731.5h4v22.5h-4zM152 714h4v17.5h-4zM160 714h4v17.5h-4zM160 731.5h4v15.5h-4zM168 713h4v18.5h-4zM176 731.5h4v9.5h-4zM184 731.5h4v10.5h-4zM192 718h4v13.5h-4zM208 717h4v14.5h-4zM216 731.5h4v3.5h-4zM240 731.5h4v1.1000000000000227h-4zM248 728h4v3.5h-4zM256 727h4v4.5h-4zM256 731.5h4v1.1000000000000227h-4zM264 726h4v5.5h-4zM264 731.5h4v3.5h-4zM272 731.5h4v9.5h-4zM280 730.4h4v1.1000000000000227h-4zM280 731.5h4v16.5h-4zM288 726h4v5.5h-4zM288 731.5h4v17.5h-4zM296 720h4v11.5h-4zM304 717h4v14.5h-4zM304 731.5h4v16.5h-4zM312 717h4v14.5h-4zM320 716h4v15.5h-4zM328 731.5h4v20.5h-4zM336 731.5h4v33.5h-4zM344 722h4v9.5h-4zM352 709h4v22.5h-4zM352 731.5h4v33.5h-4zM360 703h4v28.5h-4zM360 731.5h4v37.5h-4zM368 700h4v31.5h-4zM368 731.5h4v38.5h-4zM376 698h4v33.5h-4zM384 694h4v37.5h-4zM448 731.5h4v9.5h-4zM456 731.5h4v12.5h-4zM464 711h4v20.5h-4zM472 710h4v21.5h-4zM488 731.5h4v4.5h-4zM496 731.5h4v8.5h-4zM504 731.5h4v14.5h-4zM512 715h4v16.5h-4zM520 710h4v21.5h-4zM528 710h4v21.5h-4zM528 731.5h4v13.5h-4zM536 709h4v22.5h-4zM536 731.5h4v14.5h-4zM544 731.5h4v17.5h-4zM552 708h4v23.5h-4zM560 707h4v24.5h-4zM576 731.5h4v12.5h-4zM584 731.5h4v24.5h-4zM592 731.5h4v27.5h-4zM600 721h4v10.5h-4zM608 715h4v16.5h-4zM608 731.5h4v28.5h-4zM616 711h4v20.5h-4zM616 731.5h4v30.5h-4zM624 710h4v21.5h-4zM624 731.5h4v30.5h-4zM632 707h4v24.5h-4zM640 705h4v26.5h-4zM656 731.5h4v12.5h-4zM664 731.5h4v16.5h-4zM672 716h4v15.5h-4zM680 713h4v18.5h-4zM688 713h4v18.5h-4zM704 731.5h4v17.5h-4zM712 724h4v7.5h-4zM712 731.5h4v31.5h-4zM720 715h4v16.5h-4zM728 702h4v29.5h-4zM736 700h4v31.5h-4zM760 731.5h4v15.5h-4zM776 708h4v23.5h-4zM784 731.5h4v10.5h-4zM816 731.5h4v7.5h-4zM824 731.5h4v10.5h-4zM832 718h4v13.5h-4zM840 714h4v17.5h-4zM848 713h4v18.5h-4zM864 731.5h4v7.5h-4zM872 731.5h4v10.5h-4zM880 717h4v14.5h-4zM888 715h4v16.5h-4zM896 731.5h4v8.5h-4zM904 731.5h4v14.5h-4zM912 717h4v14.5h-4zM912 731.5h4v16.5h-4zM920 712h4v19.5h-4zM928 710h4v21.5h-4zM976 731.5h4v2.5h-4zM984 731.5h4v3.5h-4zM992 722h4v9.5h-4zM992 731.5h4v5.5h-4zM1000 721h4v10.5h-4zM1000 731.5h4v6.5h-4zM1008 719h4v12.5h-4zM1024 731.5h4v1.5h-4zM1048 731.5h4v1.1000000000000227h-4zM1056 726h4v5.5h-4zM1056 731.5h4v5.5h-4zM1064 731.5h4v8.5h-4zM1080 728h4v3.5h-4zM1088 731.5h4v2.5h-4zM1104 730h4v1.5h-4zM1104 731.5h4v1.5h-4zM1112 731.5h4v2.5h-4zM1120 728h4v3.5h-4zM1120 731.5h4v4.5h-4zM1128 727h4v4.5h-4zM1128 731.5h4v4.5h-4zM1136 725h4v6.5h-4z"/></g>
<g shape-rendering="crispEdges" stroke="#e6e6e6" stroke-width="1" stroke-dasharray="3 3" fill="none"><path clip-path="url(#c1)" d="M2 527.5H1232"/><path clip-path="url(#c2)" d="M2 629.5H1232"/><path clip-path="url(#c3)" d="M2 731.5H1232"/></g>
<g shape-rendering="crispEdges" fill="#000"><path d="M2 2H1233V474H2ZM3 3V473H1232V3Z" fill-rule="evenodd"/><path d="M2 475H1233V576H2ZM3 476V575H1232V476Z" fill-rule="evenodd"/><path d="M2 577H1233V678H2ZM3 578V677H1232V578Z" fill-rule="evenodd"/><path d="M2 679H1233V780H2ZM3 680V779H1232V680Z" fill-rule="evenodd"/><rect x="1233" y="36" width="4" height="1"/><rect x="1233" y="69" width="4" height="1"/><rect x="1233" y="103" width="4" height="1"/><rect x="1233" y="137" width="4" height="1"/><rect x="1233" y="170" width="4" height="1"/><rect x="1233" y="204" width="4" height="1"/><rect x="1233" y="237" width="4" height="1"/><rect x="1233" y="271" width="4" height="1"/><rect x="1233" y="305" width="4" height="1"/><rect x="1233" y="338" width="4" height="1"/><rect x="1233" y="372" width="4" height="1"/><rect x="1233" y="406" width="4" height="1"/><rect x="1233" y="439" width="4" height="1"/><rect x="1233" y="476" width="4" height="1"/><rect x="1233" y="574" width="4" height="1"/><rect x="1233" y="578" width="4" height="1"/><rect x="1233" y="676" width="4" height="1"/><rect x="1233" y="680" width="4" height="1"/><rect x="1233" y="778" width="4" height="1"/><rect x="2" y="780" width="1" height="4"/><rect x="66" y="780" width="1" height="4"/><rect x="130" y="780" width="1" height="4"/><rect x="194" y="780" width="1" height="4"/><rect x="258" y="780" width="1" height="4"/><rect x="322" y="780" width="1" height="4"/><rect x="386" y="780" width="1" height="4"/><rect x="450" y="780" width="1" height="4"/><rect x="514" y="780" width="1" height="4"/><rect x="578" y="780" width="1" height="4"/><rect x="642" y="780" width="1" height="4"/><rect x="706" y="780" width="1" height="4"/><rect x="770" y="780" width="1" height="4"/><rect x="834" y="780" width="1" height="4"/><rect x="898" y="780" width="1" height="4"/><rect x="962" y="780" width="1" height="4"/><rect x="1026" y="780" width="1" height="4"/><rect x="1090" y="780" width="1" height="4"/><rect x="1235" y="385" width="29" height="11" fill="#c80000"/></g>
<text x="1238" y="39.6" textLength="22.5" lengthAdjust="spacingAndGlyphs">87.45</text><text x="1238" y="72.6" textLength="22.5" lengthAdjust="spacingAndGlyphs">87.10</text><text x="1238" y="106.6" textLength="22.5" lengthAdjust="spacingAndGlyphs">86.75</text><text x="1238" y="140.6" textLength="22.5" lengthAdjust="spacingAndGlyphs">86.40</text><text x="1238" y="173.6" textLength="22.5" lengthAdjust="spacingAndGlyphs">86.05</text><text x="1238" y="207.6" textLength="22.5" lengthAdjust="spacingAndGlyphs">85.70</text><text x="1238" y="240.6" textLength="22.5" lengthAdjust="spacingAndGlyphs">85.35</text><text x="1238" y="274.6" textLength="22.5" lengthAdjust="spacingAndGlyphs">85.00</text><text x="1238" y="308.6" textLength="22.5" lengthAdjust="spacingAndGlyphs">84.65</text><text x="1238" y="341.6" textLength="22.5" lengthAdjust="spacingAndGlyphs">84.30</text><text x="1238" y="375.6" textLength="22.5" lengthAdjust="spacingAndGlyphs">83.95</text><text x="1238" y="409.6" textLength="22.5" lengthAdjust="spacingAndGlyphs">83.60</text><text x="1238" y="442.6" textLength="22.5" lengthAdjust="spacingAndGlyphs">83.25</text><text x="1238" y="394" textLength="22.5" lengthAdjust="spacingAndGlyphs" style="fill:#fff;stroke:#fff">83.76</text><text x="1238.5" y="484" textLength="21.5" lengthAdjust="spacingAndGlyphs">1.910</text><text x="1238" y="530.3" textLength="22.5" lengthAdjust="spacingAndGlyphs">0.000</text><text x="1237.5" y="573.3" textLength="25.5" lengthAdjust="spacingAndGlyphs">-1.797</text><text x="1238.5" y="586.3" textLength="26.5" lengthAdjust="spacingAndGlyphs">1.0297</text><text x="1238" y="632.3" textLength="27.5" lengthAdjust="spacingAndGlyphs">0.0000</text><text x="1237.5" y="675.4" textLength="30.5" lengthAdjust="spacingAndGlyphs">-0.9548</text><text x="1238.5" y="688" textLength="21.5" lengthAdjust="spacingAndGlyphs">1.038</text><text x="1238" y="734.3" textLength="22.5" lengthAdjust="spacingAndGlyphs">0.000</text><text x="1237.5" y="777.3" textLength="25.5" lengthAdjust="spacingAndGlyphs">-0.972</text><text x="6" y="487.6" textLength="60.3" lengthAdjust="spacingAndGlyphs">AOcust -0.134</text><text x="6" y="589.6" textLength="63" lengthAdjust="spacingAndGlyphs">ACcust -0.1127</text><text x="6" y="691.5" textLength="96" lengthAdjust="spacingAndGlyphs">GatorCust 0.116 -0.117</text><text x="2" y="792" textLength="53" lengthAdjust="spacingAndGlyphs">25 Nov 2025</text><text x="66" y="792" textLength="56.4" lengthAdjust="spacingAndGlyphs">25 Nov 15:00</text><text x="130" y="792" textLength="56.4" lengthAdjust="spacingAndGlyphs">25 Nov 23:00</text><text x="194" y="792" textLength="56.4" lengthAdjust="spacingAndGlyphs">26 Nov 07:00</text><text x="258" y="792" textLength="56.4" lengthAdjust="spacingAndGlyphs">26 Nov 15:00</text><text x="322" y="792" textLength="56.4" lengthAdjust="spacingAndGlyphs">26 Nov 23:00</text><text x="386" y="792" textLength="56.4" lengthAdjust="spacingAndGlyphs">27 Nov 07:00</text><text x="450" y="792" textLength="56.4" lengthAdjust="spacingAndGlyphs">27 Nov 15:00</text><text x="514" y="792" textLength="56.4" lengthAdjust="spacingAndGlyphs">27 Nov 23:00</text><text x="578" y="792" textLength="56.4" lengthAdjust="spacingAndGlyphs">28 Nov 07:00</text><text x="642" y="792" textLength="56.4" lengthAdjust="spacingAndGlyphs">28 Nov 15:00</text><text x="706" y="792" textLength="56.4" lengthAdjust="spacingAndGlyphs">28 Nov 23:00</text><text x="770" y="792" textLength="56.4" lengthAdjust="spacingAndGlyphs">29 Nov 07:00</text><text x="834" y="792" textLength="56.4" lengthAdjust="spacingAndGlyphs">29 Nov 15:00</text><text x="898" y="792" textLength="56.4" lengthAdjust="spacingAndGlyphs">29 Nov 23:00</text><text x="962" y="792" textLength="56.4" lengthAdjust="spacingAndGlyphs">30 Nov 07:00</text><text x="1026" y="792" textLength="56.4" lengthAdjust="spacingAndGlyphs">30 Nov 15:00</text><text x="1090" y="792" textLength="56.4" lengthAdjust="spacingAndGlyphs">30 Nov 23:00</text>
</svg></body></html>
